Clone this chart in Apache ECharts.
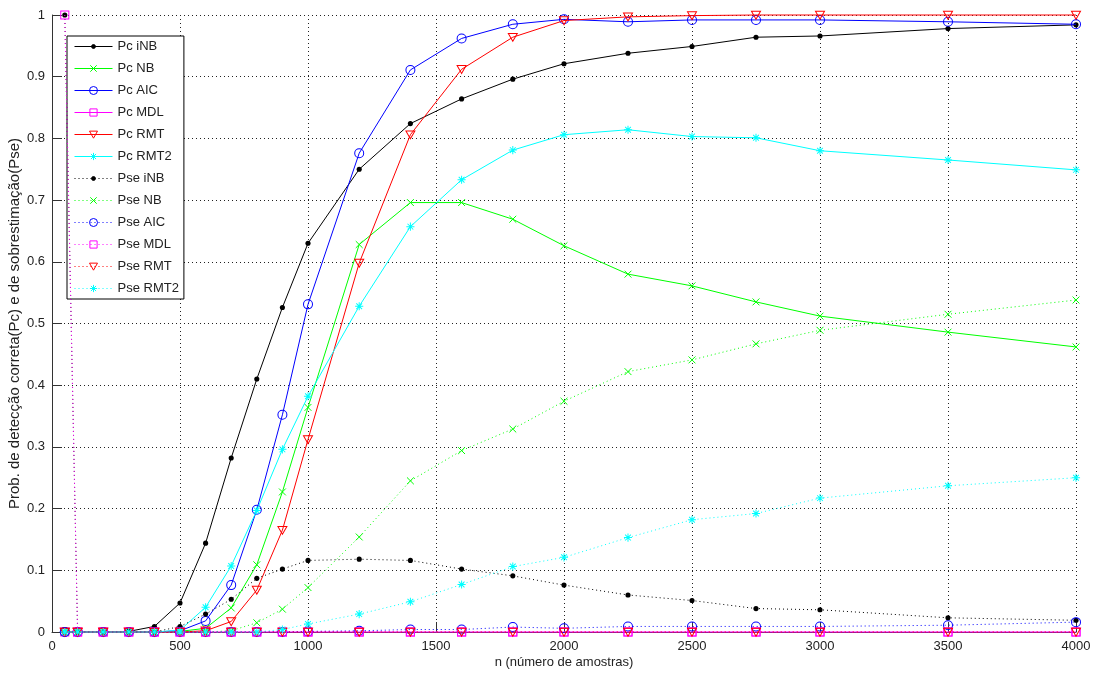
<!DOCTYPE html>
<html>
<head>
<meta charset="utf-8">
<script src="https://cdn.jsdelivr.net/npm/echarts@6/dist/echarts.min.js"></script>
<style>
html,body{margin:0;padding:0;background:#fff;}
#chart{width:1098px;height:678px;}
</style>
</head>
<body>
<div id="chart"></div>
<script>
// ---- data ----
const nVals = [50,100,200,300,400,500,600,700,800,900,1000,1200,1400,1600,1800,2000,2250,2500,2750,3000,3500,4000];
const seriesNames = ['Pc iNB','Pc NB','Pc AIC','Pc MDL','Pc RMT','Pc RMT2','Pse iNB','Pse NB','Pse AIC','Pse MDL','Pse RMT','Pse RMT2'];
const pcINB  = [0,0,0,0.001,0.009,0.047,0.144,0.282,0.41,0.526,0.63,0.75,0.824,0.864,0.896,0.921,0.938,0.949,0.964,0.966,0.978,0.984];
const pcNB   = [0,0,0,0,0,0.001,0.006,0.039,0.109,0.227,0.364,0.628,0.696,0.696,0.669,0.626,0.58,0.561,0.535,0.512,0.486,0.462];
const pcAIC  = [0,0,0,0,0,0.002,0.018,0.076,0.198,0.352,0.531,0.776,0.911,0.962,0.985,0.993,0.989,0.992,0.992,0.992,0.989,0.985];
const pcMDL  = [0,0,0,0,0,0,0,0,0,0,0,0,0,0,0,0,0,0,0,0,0,0];
const pcRMT  = [0,0,0,0,0,0,0.002,0.017,0.068,0.165,0.312,0.598,0.806,0.912,0.964,0.991,0.997,0.999,1,1,1,1];
const pcRMT2 = [0,0,0,0,0,0.003,0.04,0.107,0.197,0.296,0.382,0.528,0.657,0.733,0.781,0.806,0.814,0.803,0.801,0.78,0.765,0.749];
const pseINB = [1,0,0,0,0,0.009,0.029,0.053,0.087,0.102,0.116,0.118,0.116,0.102,0.091,0.076,0.06,0.051,0.038,0.036,0.023,0.019];
const pseNB  = [0,0,0,0,0,0,0,0.002,0.015,0.037,0.072,0.154,0.245,0.294,0.329,0.374,0.422,0.441,0.467,0.489,0.515,0.538];
const pseAIC = [0,0,0,0,0,0,0,0,0,0,0.001,0.002,0.004,0.004,0.008,0.006,0.009,0.009,0.009,0.009,0.011,0.016];
const pseMDL = [1,0,0,0,0,0,0,0,0,0,0,0,0,0,0,0,0,0,0,0,0,0];
const pseRMT = [0,0,0,0,0,0,0,0,0,0,0,0,0,0,0,0,0,0,0,0,0,0];
const pseRMT2= [0,0,0,0,0,0,0,0,0,0.004,0.013,0.029,0.049,0.077,0.106,0.121,0.153,0.182,0.192,0.217,0.237,0.25];
const xAxisTitle = 'n (número de amostras)';
const yAxisTitle = 'Prob. de detecção correta(Pc) e de sobrestimação(Pse)';

// ---- styles ----
const allData = [pcINB,pcNB,pcAIC,pcMDL,pcRMT,pcRMT2,pseINB,pseNB,pseAIC,pseMDL,pseRMT,pseRMT2];
const colors = ['#000000','#00ff00','#0000ff','#ff00ff','#ff0000','#00ffff'];
// symbol paths live in a padded box [-2,12] so the legend icons stay small
const PAD = 'M-2,-2M12,12';
const SYM = {
  dot:    {symbol:'path://' + PAD + 'M2.6,5A2.4,2.4,0,1,1,7.4,5A2.4,2.4,0,1,1,2.6,5Z', size:15, filled:true},
  x:      {symbol:'path://' + PAD + 'M1,1L9,9M9,1L1,9', size:12},
  circle: {symbol:'path://' + PAD + 'M10,5A5,5,0,1,1,0,5A5,5,0,1,1,10,5Z', size:12.6},
  square: {symbol:'path://' + PAD + 'M0.5,0.5L9.5,0.5L9.5,9.5L0.5,9.5Z', size:12.6},
  tri:    {symbol:'path://' + PAD + 'M0,0.8L10,0.8L5,9.6Z', size:12.6},
  star:   {symbol:'path://' + PAD + 'M5,0.5L5,9.5M0.5,5L9.5,5M1.8,1.8L8.2,8.2M8.2,1.8L1.8,8.2', size:12.6}
};
const symKeys = ['dot','x','circle','square','tri','star'];

const series = allData.map((arr, i) => {
  const k = i % 6;
  const c = colors[k];
  const s = SYM[symKeys[k]];
  const dotted = i >= 6;
  return {
    name: seriesNames[i],
    type: 'line',
    data: nVals.map((n, j) => [n, arr[j]]),
    symbol: s.symbol,
    symbolSize: s.size,
    showSymbol: true,
    clip: false,
    lineStyle: {color: c, width: 1, type: dotted ? [1,3] : 'solid'},
    itemStyle: s.filled ? {color: c, borderColor: c, borderWidth: 0} : {color: 'rgba(0,0,0,0)', borderColor: c, borderWidth: 1},
    emphasis: {disabled: true},
    z: 2 + i
  };
});

const chart = echarts.init(document.getElementById('chart'), null, {renderer: 'canvas'});
const font = '"Liberation Sans", Arial, sans-serif';
chart.setOption({
  animation: false,
  backgroundColor: '#ffffff',
  textStyle: {fontFamily: font},
  grid: {left: 52, right: 22, top: 15, bottom: 46, containLabel: false, outerBoundsMode: 'none'},
  legend: {
    orient: 'vertical',
    left: 67, top: 36,
    itemWidth: 38, itemHeight: 14, itemGap: 9,
    padding: [4, 5, 4, 7],
    backgroundColor: '#ffffff',
    borderColor: '#000000', borderWidth: 1,
    lineStyle: {width: 1},
    itemStyle: {borderWidth: 1},
    textStyle: {fontSize: 13, color: '#222', fontFamily: font},
    data: seriesNames,
    selectedMode: false
  },
  xAxis: {
    type: 'value', min: 0, max: 4000, interval: 500,
    name: xAxisTitle, nameLocation: 'middle', nameGap: 24, nameMoveOverlap: false,
    nameTextStyle: {fontSize: 13, color: '#222', fontFamily: font},
    axisLine: {show: true, lineStyle: {color: '#333', width: 1}},
    axisTick: {show: true, inside: true, length: 10, lineStyle: {color: '#333'}},
    axisLabel: {fontSize: 13, color: '#222', margin: 8, fontFamily: font, formatter: v => String(v)},
    splitLine: {show: true, lineStyle: {color: '#222', type: [1,3], width: 1}}
  },
  yAxis: {
    type: 'value', min: 0, max: 1, interval: 0.1,
    name: yAxisTitle, nameLocation: 'middle', nameGap: 30, nameMoveOverlap: false,
    nameTextStyle: {fontSize: 15, color: '#222', fontFamily: font},
    axisLine: {show: true, lineStyle: {color: '#333', width: 1}},
    axisTick: {show: true, inside: true, length: 10, lineStyle: {color: '#333'}},
    axisLabel: {fontSize: 13, color: '#222', margin: 7, fontFamily: font, formatter: v => String(Math.round(v * 10) / 10)},
    splitLine: {show: true, lineStyle: {color: '#222', type: [1,3], width: 1}}
  },
  series: series
});
</script>
</body>
</html>
